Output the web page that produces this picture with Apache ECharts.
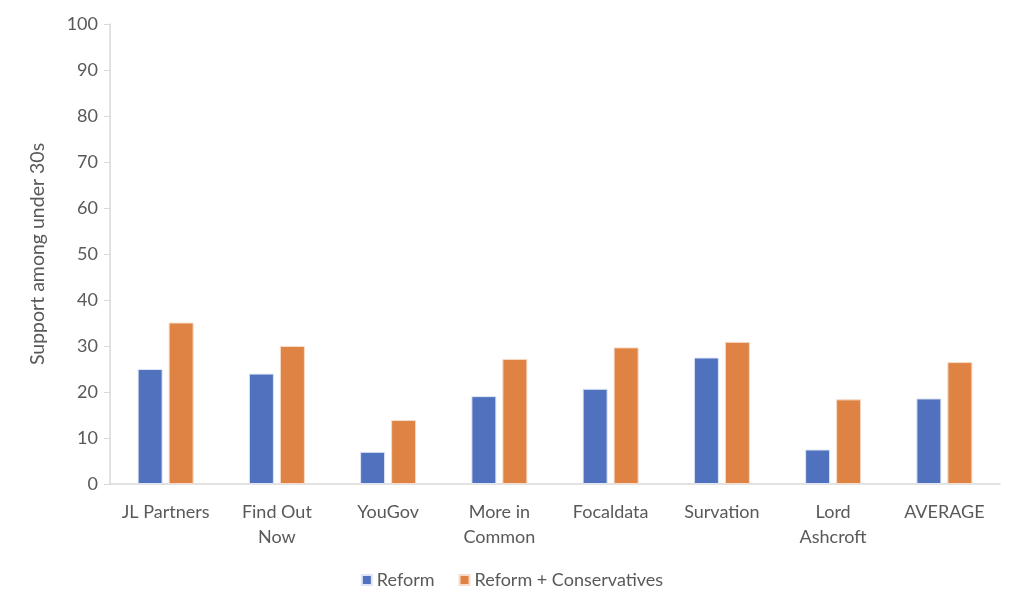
<!DOCTYPE html>
<html><head><meta charset="utf-8">
<script src="https://cdn.jsdelivr.net/npm/echarts@6/dist/echarts.min.js"></script>
<style>html,body{margin:0;padding:0;background:#fff}#c{width:1024px;height:614px}</style>
</head><body><div id="c"></div>
<script>
const categories = ['JL Partners','Find Out\nNow','YouGov','More in\nCommon','Focaldata','Survation','Lord\nAshcroft','AVERAGE'];
const reform = [25, 24, 7, 19.1, 20.7, 27.5, 7.5, 18.6];
const reformCons = [35.1, 30, 13.9, 27.2, 29.7, 30.9, 18.4, 26.5];
const yTicks = {min: 0, max: 100, interval: 10};
const FONT = 'Lato';
const chart = echarts.init(document.getElementById('c'));
chart.setOption({
  animation: false,
  textStyle: {fontFamily: FONT},
  grid: {left: 110, right: 24, top: 24, bottom: 130},
  legend: {
    bottom: 20, left: 'center', itemWidth: 10, itemHeight: 10, itemGap: 24,
    icon: 'rect',
    textStyle: {fontFamily: FONT, fontSize: 18, color: '#595959'},
    data: ['Reform', 'Reform + Conservatives']
  },
  xAxis: {
    type: 'category', data: categories,
    axisLine: {lineStyle: {color: '#d9d9d9', width: 1.5}},
    axisTick: {show: false},
    axisLabel: {fontFamily: FONT, fontSize: 18, color: '#595959', margin: 16, lineHeight: 25, interval: 0}
  },
  yAxis: {
    type: 'value', min: yTicks.min, max: yTicks.max, interval: yTicks.interval,
    name: 'Support among under 30s', nameLocation: 'middle', nameGap: 62, nameRotate: 90,
    nameTextStyle: {fontFamily: FONT, fontSize: 19.5, color: '#595959'},
    axisLine: {show: true, lineStyle: {color: '#d9d9d9', width: 1.5}},
    axisTick: {show: true, length: 6, lineStyle: {color: '#d9d9d9'}},
    splitLine: {show: false},
    axisLabel: {fontFamily: FONT, fontSize: 18, color: '#595959', margin: 12}
  },
  series: [
    {name: 'Reform', type: 'bar', data: reform, barWidth: 25, barGap: '24%',
     itemStyle: {color: '#4f71be', borderColor: '#dfe6f5', borderWidth: 1}},
    {name: 'Reform + Conservatives', type: 'bar', data: reformCons, barWidth: 25,
     itemStyle: {color: '#de8344', borderColor: '#f6dcc9', borderWidth: 1}}
  ]
});
</script></body></html>
